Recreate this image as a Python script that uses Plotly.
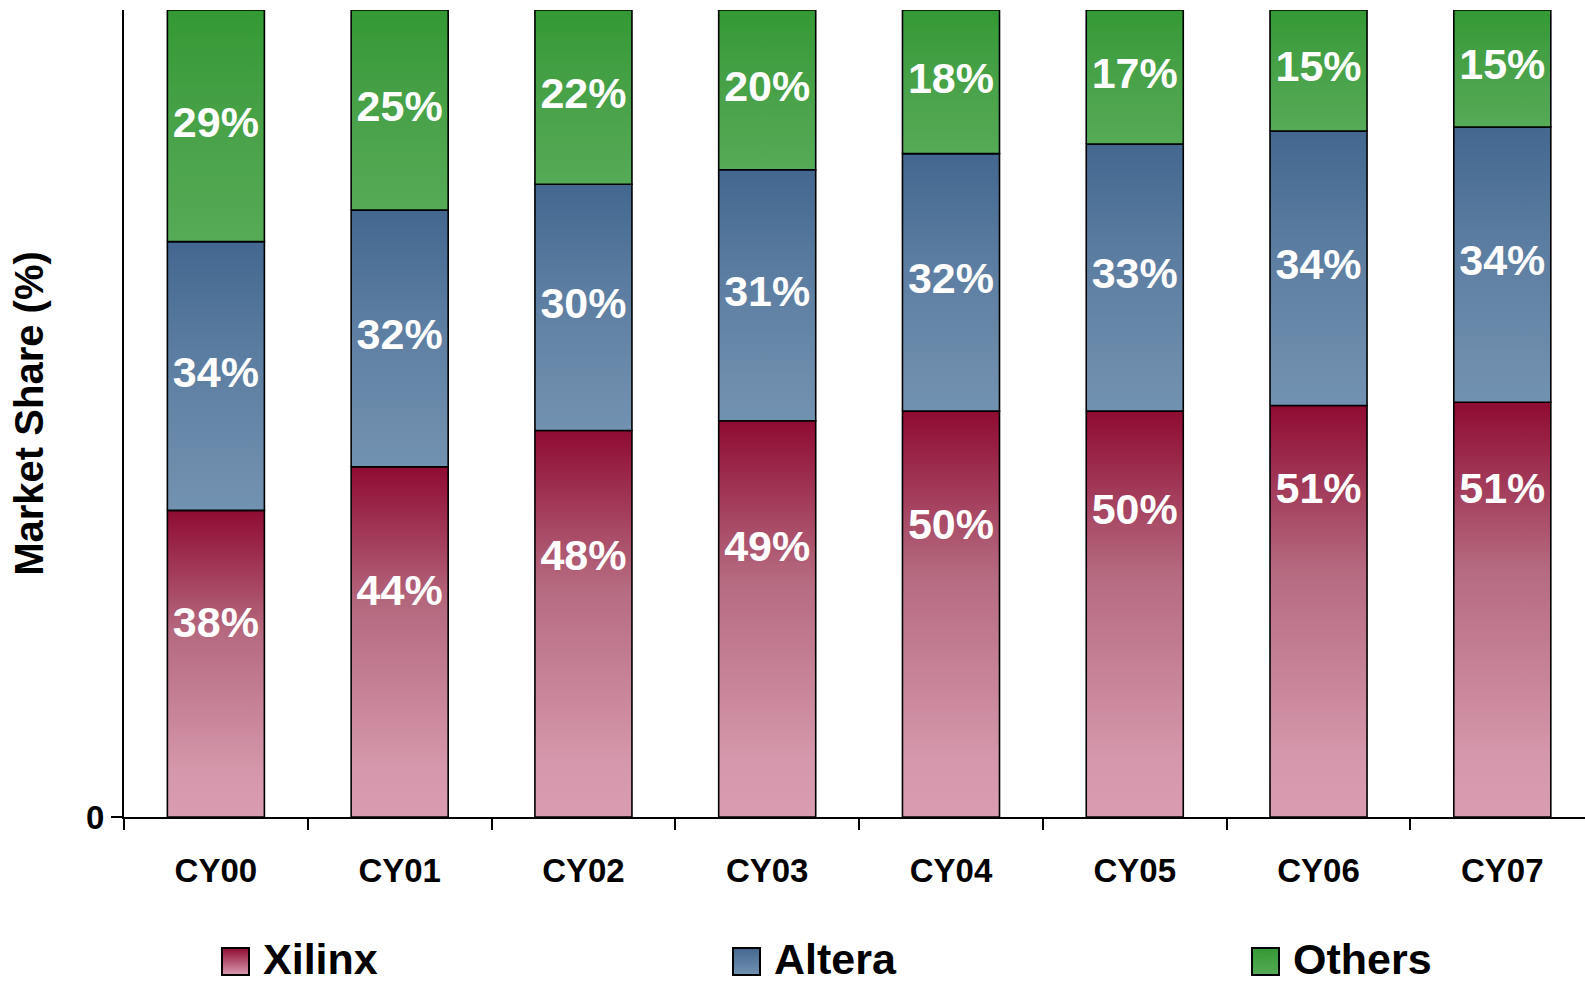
import base64
import plotly.graph_objects as go

# ---------------- data ----------------
categories = ["CY00", "CY01", "CY02", "CY03", "CY04", "CY05", "CY06", "CY07"]
xilinx = [38.0, 43.4, 47.9, 49.1, 50.3, 50.3, 51.0, 51.4]
altera = [33.3, 31.8, 30.5, 31.1, 31.9, 33.1, 34.0, 34.1]
others = [28.7, 24.8, 21.6, 19.8, 17.8, 16.6, 15.0, 14.5]
xilinx_labels = ["38%", "44%", "48%", "49%", "50%", "50%", "51%", "51%"]
altera_labels = ["34%", "32%", "30%", "31%", "32%", "33%", "34%", "34%"]
others_labels = ["29%", "25%", "22%", "20%", "18%", "17%", "15%", "15%"]
series_names = ["Xilinx", "Altera", "Others"]
y_ticks = [0]
y_tick_labels = ["0"]

# ---------------- styles / layout helpers ----------------
FONT = "Liberation Sans, Arial, sans-serif"
BAR_HALF = 0.264
# gradient stops (bottom -> top) per series
GRAD = {
    "Xilinx": ["#D99CB0", "#D597AB", "#B56A80", "#8F0B32"],
    "Altera": ["#7292B1", "#6E8DAD", "#5A7CA0", "#43678F"],
    "Others": ["#56AB56", "#52A852", "#45A045", "#339933"],
}
# vertical placement of the Xilinx labels (value units)
xilinx_label_y = [23.6, 27.6, 32.0, 33.0, 35.8, 37.6, 40.2, 40.2]


def scale(stops):
    n = len(stops) - 1
    pos = [0, 0.15, 0.6, 1.0] if n == 3 else [i / n for i in range(n + 1)]
    return [[p, c] for p, c in zip(pos, stops)]


fig = go.Figure()

values = {"Xilinx": xilinx, "Altera": altera, "Others": others}
for i, cat in enumerate(categories):
    base = 0.0
    for name in series_names:
        v = values[name][i]
        top = base + v
        fig.add_trace(go.Scatter(
            x=[i - BAR_HALF, i + BAR_HALF, i + BAR_HALF, i - BAR_HALF, i - BAR_HALF],
            y=[base, base, top, top, base],
            mode="lines",
            fill="toself",
            fillgradient=dict(type="vertical", colorscale=scale(GRAD[name]),
                              start=base, stop=top),
            line=dict(color="black", width=1.6),
            name=name,
            showlegend=False,
            hoverinfo="skip",
        ))
        base = top

# labels
xs = list(range(len(categories)))
alt_mid = [x + a / 2 for x, a in zip(xilinx, altera)]
oth_mid = [x + a + o / 2 for x, a, o in zip(xilinx, altera, others)]
for ys, txt in [(xilinx_label_y, xilinx_labels), (alt_mid, altera_labels), (oth_mid, others_labels)]:
    fig.add_trace(go.Scatter(
        x=xs, y=ys, text=txt, mode="text",
        textfont=dict(color="white", size=43, family=FONT, weight="bold"),
        showlegend=False, hoverinfo="skip",
    ))

# ---------------- legend (custom, large gradient keys) ----------------
PLOT_L, PLOT_R, PLOT_T, PLOT_B = 124, 1585, 10, 817
PW, PH = PLOT_R - PLOT_L, PLOT_B - PLOT_T


def px2x(px):
    return (px - PLOT_L) / PW


def py2y(py):
    return (PLOT_B - py) / PH


def grad_svg(stops):
    top, bot = stops[-1], stops[0]
    svg = (
        '<svg xmlns="http://www.w3.org/2000/svg" width="29" height="29">'
        '<defs><linearGradient id="g" x1="0" y1="0" x2="0" y2="1">'
        f'<stop offset="0" stop-color="{top}"/><stop offset="1" stop-color="{bot}"/>'
        '</linearGradient></defs>'
        '<rect x="1" y="1" width="27" height="27" fill="url(#g)" stroke="black" stroke-width="2"/>'
        '</svg>'
    )
    return "data:image/svg+xml;base64," + base64.b64encode(svg.encode()).decode()


legend_key_px = {"Xilinx": 221, "Altera": 732, "Others": 1251}
images = []
annotations = []
for name in series_names:
    kx = legend_key_px[name]
    images.append(dict(
        source=grad_svg(GRAD[name]), xref="paper", yref="paper",
        x=px2x(kx), y=py2y(947), sizex=29 / PW, sizey=29 / PH,
        xanchor="left", yanchor="top", sizing="stretch", layer="above",
    ))
    annotations.append(dict(
        text=name, xref="paper", yref="paper", x=px2x(kx + 40), y=py2y(959),
        xanchor="left", yanchor="middle", showarrow=False,
        font=dict(size=43, color="black", family=FONT, weight="bold"),
    ))

fig.update_layout(
    width=1585, height=985,
    margin=dict(l=PLOT_L, r=1585 - PLOT_R, t=PLOT_T, b=985 - PLOT_B),
    plot_bgcolor="white", paper_bgcolor="white",
    showlegend=False,
    images=images,
    annotations=annotations,
    xaxis=dict(
        range=[-0.5, 7.45],
        tickmode="array", tickvals=xs, ticktext=categories,
        ticks="", showgrid=False, zeroline=False,
        showline=True, linecolor="black", linewidth=2,
        tickfont=dict(size=33, color="black", family=FONT, weight="bold"),
        ticklabelstandoff=23,
        minor=dict(tickmode="array", tickvals=[k - 0.5 for k in range(9)],
                   ticks="outside", ticklen=11, tickwidth=2, tickcolor="black",
                   showgrid=False),
    ),
    yaxis=dict(
        range=[0, 100],
        tickmode="array", tickvals=y_ticks, ticktext=y_tick_labels,
        ticks="outside", ticklen=11, tickwidth=2, tickcolor="black",
        showgrid=False, zeroline=False,
        showline=True, linecolor="black", linewidth=2,
        tickfont=dict(size=33, color="black", family=FONT, weight="bold"),
        title=dict(text="Market Share (%)", standoff=30,
                   font=dict(size=40, color="black", family=FONT, weight="bold")),
    ),
)

fig.write_html("out.html")
